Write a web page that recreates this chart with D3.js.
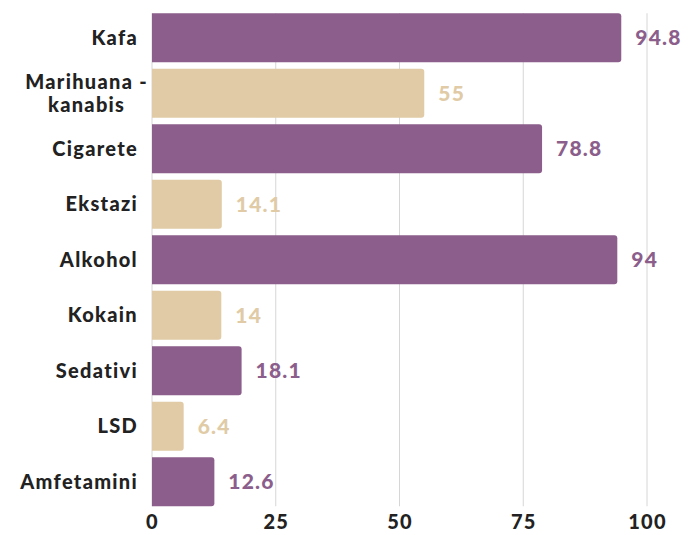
<!DOCTYPE html>
<html>
<head>
<meta charset="utf-8">
<script src="https://cdn.jsdelivr.net/npm/d3@7"></script>
<style>
  body { margin: 0; background: #fff; }
  text { font-family: Lato, sans-serif; font-weight: 900; }
</style>
</head>
<body>
<div class="box"></div>
<script>
// Data
const categories = ["Kafa", "Marihuana - kanabis", "Cigarete", "Ekstazi", "Alkohol", "Kokain", "Sedativi", "LSD", "Amfetamini"];
const labelLines = [["Kafa"], ["Marihuana -", "kanabis"], ["Cigarete"], ["Ekstazi"], ["Alkohol"], ["Kokain"], ["Sedativi"], ["LSD"], ["Amfetamini"]];
const values = [94.8, 55, 78.8, 14.1, 94, 14, 18.1, 6.4, 12.6];
const tickValues = [0, 25, 50, 75, 100];

const w = 698;
const h = 535;
const purple = "#8b5e8b";
const beige = "#e0cba6";

const svg = d3.select(".box")
    .append("svg")
    .attr("width", w)
    .attr("height", h);

// scales
const xScale = d3.scaleLinear()
    .domain([0, 100])
    .range([152, 647]);

const yScale = d3.scaleBand()
    .domain(categories)
    .range([10, 509.5])
    .paddingInner(0.117)
    .paddingOuter(0.0585);

const color = (d, i) => i % 2 === 0 ? purple : beige;

// gridlines
svg.append("g")
    .selectAll("line")
    .data(tickValues)
    .enter()
    .append("line")
    .attr("x1", d => xScale(d))
    .attr("x2", d => xScale(d))
    .attr("y1", yScale(categories[0]))
    .attr("y2", yScale(categories[categories.length - 1]) + yScale.bandwidth())
    .style("stroke", "#d6d6d6")
    .style("stroke-width", 1);

// bars: rounded on the right end only
const r = 3;
function barPath(x0, x1, y, hgt) {
    const rr = Math.min(r, (x1 - x0) / 2);
    return "M" + x0 + "," + y +
        "H" + (x1 - rr) +
        "Q" + x1 + "," + y + " " + x1 + "," + (y + rr) +
        "V" + (y + hgt - rr) +
        "Q" + x1 + "," + (y + hgt) + " " + (x1 - rr) + "," + (y + hgt) +
        "H" + x0 + "Z";
}

svg.append("g")
    .selectAll("path")
    .data(values)
    .enter()
    .append("path")
    .attr("d", (d, i) => barPath(xScale(0), xScale(d), yScale(categories[i]), yScale.bandwidth()))
    .style("fill", color);

// value labels
svg.append("g")
    .selectAll("text")
    .data(values)
    .enter()
    .append("text")
    .attr("x", d => xScale(d) + 14)
    .attr("y", (d, i) => yScale(categories[i]) + yScale.bandwidth() / 2)
    .attr("dy", "0.36em")
    .style("font-size", "21px")
    .style("letter-spacing", "1.2px")
    .style("fill", color)
    .text(d => d);

// category labels
const catG = svg.append("g");
labelLines.forEach((lines, i) => {
    const cy = yScale(categories[i]) + yScale.bandwidth() / 2;
    const t = catG.append("text")
        .style("font-size", "20px")
        .style("letter-spacing", "1.3px")
        .style("fill", "#222");
    if (lines.length === 1) {
        t.attr("x", 138).attr("y", cy).attr("dy", "0.36em")
            .attr("text-anchor", "end")
            .text(lines[0]);
    } else {
        t.attr("text-anchor", "middle");
        lines.forEach((ln, j) => {
            t.append("tspan")
                .attr("y", cy + (j - (lines.length - 1) / 2) * 23)
                .attr("dy", "0.36em")
                .text(ln);
        });
        const maxW = d3.max(t.selectAll("tspan").nodes(), n => n.getComputedTextLength());
        t.selectAll("tspan").attr("x", 148 - maxW / 2);
    }
});

// x axis
const xAxis = d3.axisBottom(xScale)
    .tickValues(tickValues)
    .tickSize(0)
    .tickPadding(0);

const axisG = svg.append("g")
    .attr("transform", "translate(0,522)")
    .call(xAxis);
axisG.select(".domain").remove();
axisG.selectAll("text")
    .attr("dy", "0.36em")
    .attr("y", 0)
    .style("font-family", "Lato, sans-serif")
    .style("font-weight", 900)
    .style("font-size", "20px")
    .style("letter-spacing", "1.2px")
    .style("fill", "#222");
</script>
</body>
</html>
